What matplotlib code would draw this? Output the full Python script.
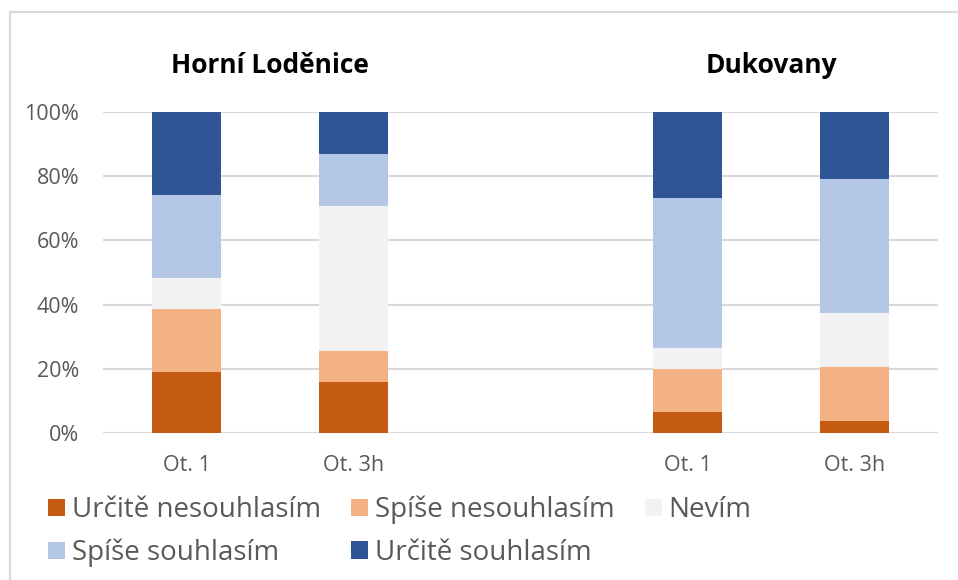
import matplotlib.pyplot as plt
from matplotlib.lines import Line2D
from matplotlib.ticker import PercentFormatter

plt.rcParams['font.family'] = ['Open Sans', 'DejaVu Sans']

# categories (empty slot separates the two locations)
categories = ["Ot. 1", "Ot. 3h", "", "Ot. 1", "Ot. 3h"]
groups = ["Horní Loděnice", "Dukovany"]

# shares in %, one list per answer, one value per category
urcite_ne = [19.1, 15.8, 0, 6.4, 3.9]
spise_ne = [19.4, 9.8, 0, 13.4, 16.6]
nevim = [9.7, 45.2, 0, 6.7, 16.9]
spise_ano = [25.9, 16.2, 0, 46.7, 41.7]
urcite_ano = [25.9, 13.0, 0, 26.8, 20.9]

series = [urcite_ne, spise_ne, nevim, spise_ano, urcite_ano]
labels = ["Určitě nesouhlasím", "Spíše nesouhlasím", "Nevím",
          "Spíše souhlasím", "Určitě souhlasím"]
colors = ["#C55A11", "#F4B183", "#F2F2F2", "#B4C7E7", "#2F5597"]

fig = plt.figure(figsize=(9.58, 5.8), dpi=100)
ax = fig.add_axes([0.1075, 0.2534, 0.8716, 0.5534])

x = range(len(categories))
bottom = [0] * len(categories)
handles = []
for vals, lab, col in zip(series, labels, colors):
    b = ax.bar(x, vals, 0.41, bottom=bottom, color=col, label=lab, zorder=3)
    handles.append(b)
    bottom = [a + v for a, v in zip(bottom, vals)]

ax.set_xlim(-0.5, 4.5)
ax.set_ylim(0, 100)
ax.set_yticks([0, 20, 40, 60, 80, 100])
ax.yaxis.set_major_formatter(PercentFormatter(decimals=0))
ax.set_xticks(list(x))
ax.set_xticklabels(categories)
ax.grid(axis="y", color="#D9D9D9", linewidth=1.5, zorder=0)
for s in ax.spines.values():
    s.set_visible(False)
ax.tick_params(length=0, colors="#595959", labelsize=15.5)
ax.tick_params(axis="y", pad=17)
ax.tick_params(axis="x", pad=16)

# group titles over each pair of bars
ax.text(0.5, 1.145, groups[0], transform=ax.get_xaxis_transform(),
        ha="center", va="center", fontsize=19, fontweight="bold")
ax.text(3.5, 1.145, groups[1], transform=ax.get_xaxis_transform(),
        ha="center", va="center", fontsize=19, fontweight="bold")

# legend in row order like the original
order = [0, 3, 1, 4, 2]
fig.legend([handles[i] for i in order], [labels[i] for i in order],
           loc="upper left", bbox_to_anchor=(0.050, 0.145), ncol=3,
           frameon=False, fontsize=20, labelcolor="#595959",
           borderpad=0, borderaxespad=0,
           handlelength=0.6, handleheight=0.6, handletextpad=0.25,
           columnspacing=1.1, labelspacing=0.52)

# chart frame (only top and left edges visible)
fig.add_artist(Line2D([10 / 958, 1], [1 - 12 / 580, 1 - 12 / 580],
                      color="#D9D9D9", linewidth=1.5))
fig.add_artist(Line2D([10 / 958, 10 / 958], [0, 1 - 12 / 580],
                      color="#D9D9D9", linewidth=1.5))

fig.savefig("out.png", dpi=100)
